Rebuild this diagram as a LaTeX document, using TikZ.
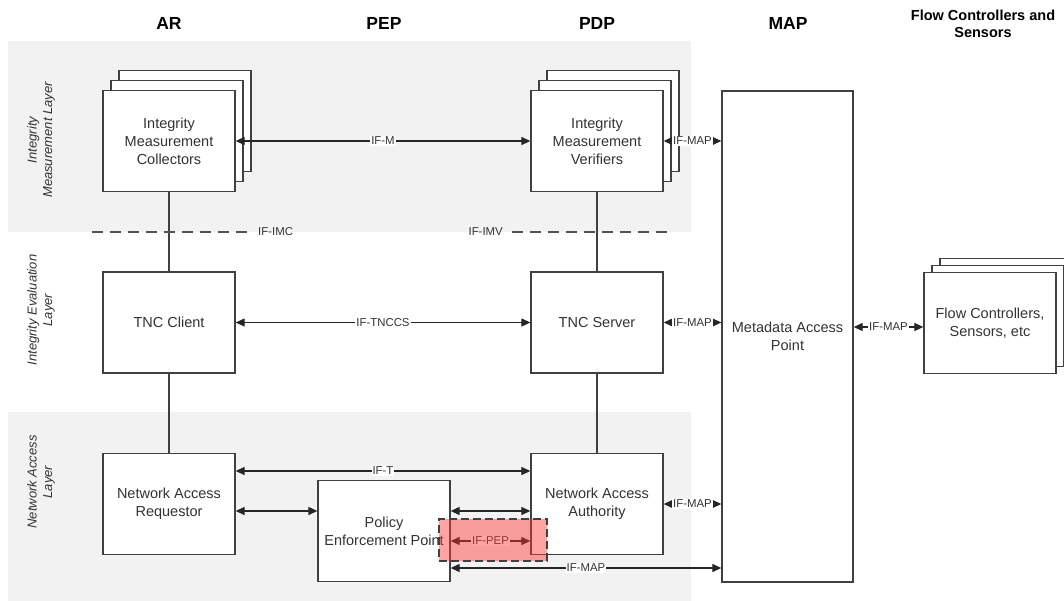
\documentclass[tikz,border=0pt]{standalone}
\usepackage{fontspec}
\setmainfont{Liberation Sans}
\usetikzlibrary{arrows.meta,shadows}
\definecolor{LineGray}{RGB}{64, 64, 64}
\definecolor{TextGray}{RGB}{51, 51, 51}
\definecolor{BandGray}{RGB}{242, 242, 242}

\begin{document}
\begin{tikzpicture}[x=1pt, y=-1pt,
    box/.style={draw=LineGray, line width=1.3pt, fill=white, minimum width=132pt, minimum height=101pt, inner sep=0pt, align=center, text=TextGray, font=\fontsize{14.5}{18}\selectfont},
    stack/.style 2 args={box,
        copy shadow={shadow xshift=16pt, shadow yshift=#2, draw=LineGray, fill=white, line width=1.3pt},
        copy shadow={shadow xshift=8pt, shadow yshift=#1, draw=LineGray, fill=white, line width=1.3pt}},
    head/.style={font=\fontsize{17.5}{21}\selectfont\bfseries, align=center},
    layer/.style={rotate=90, align=center, text=TextGray, font=\fontsize{13}{15.5}\selectfont\itshape},
    link/.style={line width=1.3pt, LineGray},
    iface/.style={<->, >={Triangle[length=9pt, width=8pt]}, line width=1.2pt, black!85},
    tag/.style={fill=white, inner sep=1pt, text=TextGray, font=\fontsize{11.4}{13}\selectfont},
    split/.style={dash pattern=on 11pt off 7pt, line width=1.4pt, LineGray!90},
    pepzone/.style={draw=LineGray, dash pattern=on 8pt off 4pt, line width=1.4pt, fill=red!80!white, fill opacity=0.45, minimum width=108pt, minimum height=42pt}
  ]
  \useasboundingbox (0,0) rectangle (1064,601);

  % Layer bands
  \fill[BandGray] (8,41) rectangle (691,232);
  \fill[BandGray] (8,412) rectangle (691,601);

  % Column heads
  \node[head] (h_ar) at (169,23) {AR};
  \node[head] (h_pep) at (384,23) {PEP};
  \node[head] (h_pdp) at (597,23) {PDP};
  \node[head] (h_map) at (788,23) {MAP};
  \node[head, font=\fontsize{14.5}{17}\selectfont\bfseries] (h_flow) at (983,23.5) {Flow Controllers and\\Sensors};

  % Layer names
  \node[layer] (l_meas) at (41,140) {Integrity\\Measurement Layer};
  \node[layer] (l_eval) at (41,310) {Integrity Evaluation\\Layer};
  \node[layer] (l_net) at (41,482) {Network Access\\Layer};

  % Boxes
  \node[stack={10pt}{20pt}] (imc) at (169,141) {Integrity\\Measurement\\Collectors};
  \node[stack={10pt}{20pt}] (imv) at (597,141) {Integrity\\Measurement\\Verifiers};
  \node[box] (tncc) at (169,322.5) {TNC Client};
  \node[box] (tncs) at (597,322.5) {TNC Server};
  \node[box] (nar) at (169,504) {Network Access\\Requestor};
  \node[box] (naa) at (597,504) {Network Access\\Authority};
  \node[box] (pep) at (384,531) {Policy\\Enforcement Point};
  \node[box, minimum width=131pt, minimum height=491pt] (map) at (787.5,336.5) {Metadata Access\\Point};
  \node[stack={7pt}{14pt}] (flow) at (990,323) {Flow Controllers,\\Sensors, etc};

  % Vertical links
  \draw[link] (imc) -- (tncc);
  \draw[link] (tncc) -- (nar);
  \draw[link] (imv) -- (tncs);
  \draw[link] (tncs) -- (naa);

  % Layer borders
  \coordinate (imc_end) at (92,232);
  \coordinate (imv_end) at (670,232);
  \node[tag, fill=none, anchor=west] (if_imc) at (257,232) {IF-IMC};
  \node[tag, fill=none, anchor=east] (if_imv) at (504,232) {IF-IMV};
  \draw[split] (imc_end) -- ([xshift=-7pt]if_imc.west);
  \draw[split] ([xshift=8pt]if_imv.east) -- (imv_end);

  % Interfaces
  \draw[iface] (imc) -- node[tag] {IF-M} (imv);
  \draw[iface] (imv.east) -- node[tag] {IF-MAP} (imv.east -| map.west);
  \draw[iface] (tncc) -- node[tag] {IF-TNCCS} (tncs);
  \draw[iface] (tncs.east) -- node[tag] {IF-MAP} (tncs.east -| map.west);
  \draw[iface] ([yshift=-4pt]flow.west -| map.east) -- node[tag] {IF-MAP} ([yshift=-4pt]flow.west);
  \draw[iface] ([yshift=33pt]nar.east) -- node[tag] {IF-T} ([yshift=33pt]naa.west);
  \draw[iface] ([yshift=-7pt]nar.east) -- ([yshift=-7pt]nar.east -| pep.west);
  \draw[iface] ([yshift=20pt]pep.east) -- ([yshift=20pt]pep.east -| naa.west);
  \draw[iface] ([yshift=-10pt]pep.east) -- node[tag] {IF-PEP} ([yshift=-10pt]pep.east -| naa.west);
  \draw[iface] (naa.east) -- node[tag] {IF-MAP} (naa.east -| map.west);
  \draw[iface] ([yshift=-37pt]pep.east) -- node[tag] {IF-MAP} ([yshift=-37pt]pep.east -| map.west);

  % PEP interface mark
  \node[pepzone] (ifpep_zone) at (493,540) {};
\end{tikzpicture}
\end{document}
